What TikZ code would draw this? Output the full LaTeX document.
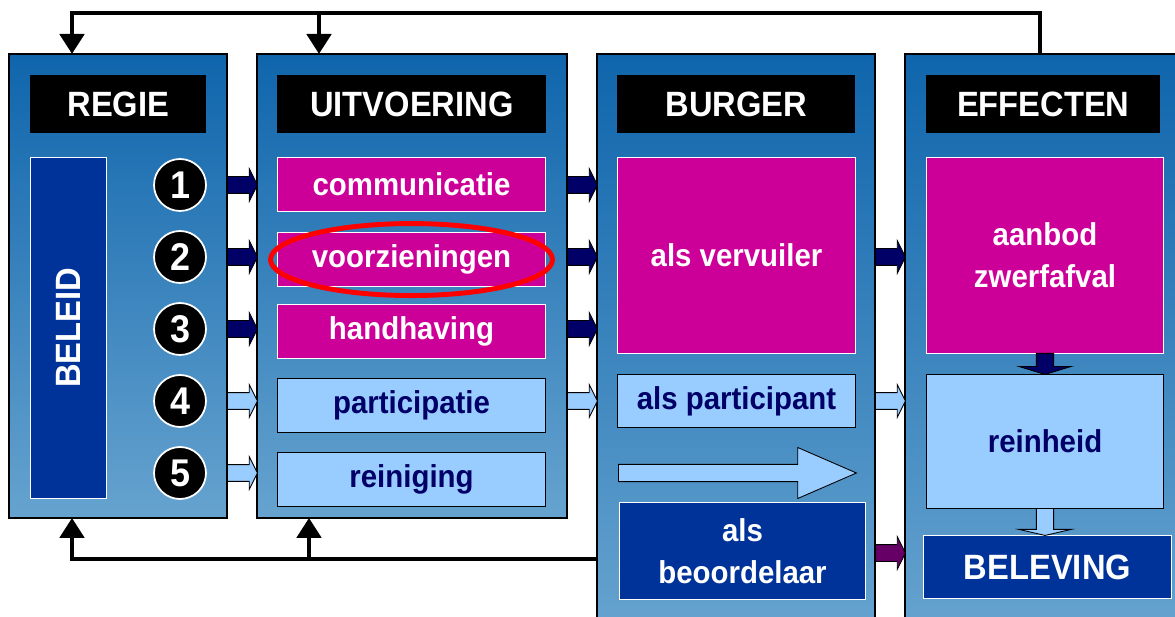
\documentclass[tikz,border=0pt]{standalone}
\usepackage{fontspec}
\setmainfont{Liberation Sans}[FakeStretch=0.93]
\usepackage{xcolor}
\usetikzlibrary{arrows.meta, positioning, shapes.geometric, shapes.arrows}

\definecolor{panTop}{HTML}{0F65AC}
\definecolor{panBot}{HTML}{66A3CF}
\definecolor{mag}{HTML}{CC0099}
\definecolor{lblue}{HTML}{99CCFF}
\definecolor{navy}{HTML}{000066}
\definecolor{dblue}{HTML}{003399}
\definecolor{purp}{HTML}{660066}

\begin{document}
\begin{tikzpicture}[
  x=0.02cm, y=-0.02cm,
  node distance=0.38cm and 0.4cm,
  panel/.style={rectangle, draw, line width=1.1pt, top color=panTop, bottom color=panBot,
    anchor=north west, inner sep=0pt, outer sep=0pt},
  head/.style={rectangle, fill=black, text=white, anchor=north west, minimum height=1.16cm,
    inner sep=0pt, font=\fontsize{20}{22}\selectfont\bfseries},
  txt/.style={rectangle, inner sep=0pt, align=center, font=\fontsize{18}{24}\selectfont\bfseries},
  magbox/.style={txt, fill=mag, draw=white, line width=0.6pt, text=white},
  lightbox/.style={txt, fill=lblue, draw=black, line width=0.6pt, text=navy},
  darkbox/.style={txt, fill=dblue, draw=white, line width=0.6pt, text=white},
  numcirc/.style={circle, fill=black, draw=white, line width=1pt, minimum size=1.04cm,
    inner sep=0pt, text=white, font=\fontsize{22}{22}\selectfont\bfseries},
  blk/.style={single arrow, draw=black, line width=0.5pt, minimum height=0.6cm, minimum width=0.64cm,
    single arrow head extend=0.16cm, single arrow tip angle=127, inner sep=0.16cm, anchor=tail},
  darr/.style={blk, fill=navy},
  larr/.style={blk, fill=lblue},
  parr/.style={blk, fill=purp},
  downarr/.style={single arrow, draw=black, line width=0.5pt, minimum width=1.04cm,
    single arrow head extend=0.27cm, inner sep=0.125cm, anchor=tail, shape border rotate=270},
  ring/.style={ellipse, draw=red, line width=2.8pt, minimum width=5.64cm, minimum height=1.44cm},
  fbline/.style={line width=2.8pt, -{Triangle[length=0.4cm, width=0.48cm]}}
]
  \useasboundingbox (0,0) rectangle (1175,617);

  % panels
  \node[panel, minimum width=4.36cm, minimum height=9.28cm] (regie) at (9,54) {};
  \node[panel, minimum width=6.2cm, minimum height=9.28cm] (uitv) at (257,54) {};
  \node[panel, minimum width=5.56cm, minimum height=11.52cm] (burger) at (597,54) {};
  \node[panel, minimum width=5.6cm, minimum height=11.52cm] (effect) at (905,54) {};

  \node[head, minimum width=3.52cm] (hregie) at (30,75) {REGIE};
  \node[head, minimum width=5.38cm] (huitv) at (277,75) {UITVOERING};
  \node[head, minimum width=4.76cm] (hburger) at (617,75) {BURGER};
  \node[head, minimum width=4.68cm] (heffect) at (926,75) {EFFECTEN};

  % regie
  \node[darkbox, minimum width=1.52cm, minimum height=6.82cm, anchor=north west] (beleid) at (30,157)
    {\rotatebox{90}{\fontsize{20}{22}\selectfont BELEID}};
  \node[numcirc] (n1) at (180,185) {1};
  \node[numcirc] (n2) at (180,257) {2};
  \node[numcirc] (n3) at (180,329) {3};
  \node[numcirc] (n4) at (180,401) {4};
  \node[numcirc] (n5) at (180,473) {5};

  % uitvoering
  \node[magbox, minimum width=5.36cm, minimum height=1.08cm, anchor=north west] (comm) at (277,157) {communicatie};
  \node[magbox, minimum width=5.36cm, minimum height=1.08cm, below=0.4cm of comm] (voorz) {voorzieningen};
  \node[magbox, minimum width=5.36cm, minimum height=1.08cm, below=0.34cm of voorz] (handh) {handhaving};
  \node[lightbox, minimum width=5.36cm, minimum height=1.08cm, below=of handh] (partic) {participatie};
  \node[lightbox, minimum width=5.36cm, minimum height=1.08cm, below=of partic] (rein) {reiniging};
  \node[ring] (ring) at (voorz) {};

  % burger
  \node[magbox, minimum width=4.76cm, minimum height=3.92cm, anchor=north west] (vervuil) at (617,157) {als vervuiler};
  \node[lightbox, minimum width=4.76cm, minimum height=1.06cm, anchor=north west] (particip) at (617,374) {als participant};
  \node[single arrow, draw=black, line width=0.5pt, fill=lblue, minimum height=4.76cm, minimum width=1.02cm,
    single arrow head extend=0.26cm, single arrow tip angle=47, inner sep=0.125cm, anchor=tail] (flow) at (618,473) {};
  \node[darkbox, minimum width=4.92cm, minimum height=1.94cm, anchor=north west] (beoord) at (619,502) {als\\beoordelaar};

  % effecten
  \node[magbox, minimum width=4.74cm, minimum height=3.92cm, anchor=north west] (aanbod) at (926,157) {aanbod\\zwerfafval};
  \node[lightbox, minimum width=4.74cm, minimum height=2.68cm, anchor=north west] (reinh) at (926,374) {reinheid};
  \node[darkbox, minimum width=4.96cm, minimum height=1.26cm, anchor=north west,
    font=\fontsize{20}{22}\selectfont\bfseries] (belev) at (923,535) {BELEVING};
  \node[downarr, fill=navy, minimum height=0.42cm, single arrow tip angle=146] (d1) at (1045,353) {};
  \node[downarr, fill=lblue, minimum height=0.54cm, single arrow tip angle=154] (d2) at (1045,508) {};

  % block arrows between panels
  \node[darr] (a1) at (227,185) {};
  \node[darr] (a2) at (227,257) {};
  \node[darr] (a3) at (227,329) {};
  \node[larr] (a4) at (227,401) {};
  \node[larr] (a5) at (227,473) {};
  \node[darr] (b1) at (567,185) {};
  \node[darr] (b2) at (567,257) {};
  \node[darr] (b3) at (567,329) {};
  \node[larr] (b4) at (567,401) {};
  \node[darr] (c1) at (875,257) {};
  \node[larr] (c2) at (875,401) {};
  \node[parr] (c3) at (875,553) {};

  % feedback loops
  \coordinate (topR) at (1040,13);
  \coordinate (topL) at (72,13);
  \coordinate (topM) at (319,13);
  \coordinate (botL) at (72,559);
  \coordinate (botM) at (309,559);
  \draw[fbline] (effect.north -| topR) -- (topR) -- (topL) -- (topL |- regie.north);
  \draw[fbline] (topM) -- (topM |- uitv.north);
  \draw[fbline] (burger.west |- botL) -- (botL) -- (botL |- regie.south);
  \draw[fbline] (botM) -- (botM |- uitv.south);
\end{tikzpicture}
\end{document}
